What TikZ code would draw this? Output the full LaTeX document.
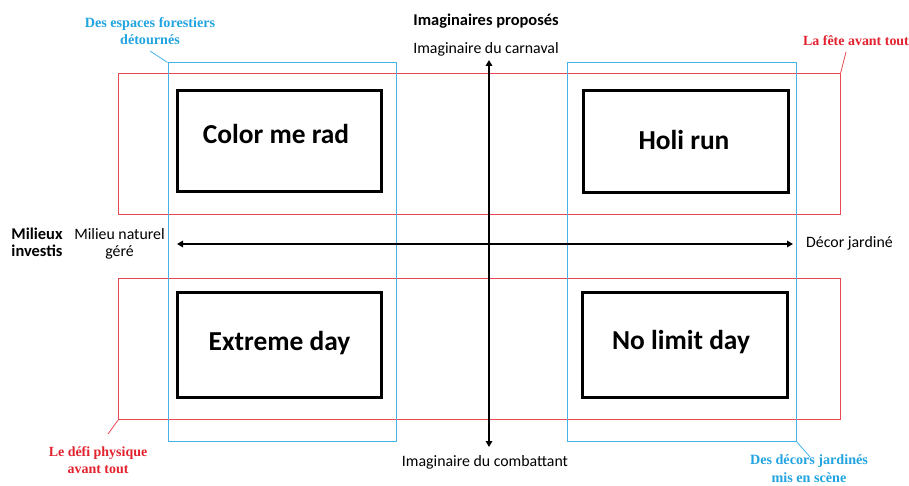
\documentclass[tikz,border=0pt]{standalone}
\usepackage{fontspec}
\setmainfont{Carlito}
\newfontfamily\labserif{Liberation Serif}
\usetikzlibrary{arrows.meta}
\definecolor{zonered}{RGB}{234,72,82}
\definecolor{zoneblue}{RGB}{70,178,232}
\definecolor{txtred}{RGB}{226,34,46}
\definecolor{txtblue}{RGB}{34,164,224}
\begin{document}
\begin{tikzpicture}[x=1bp,y=-1bp,
  redzone/.style={draw=zonered,line width=1bp,minimum width=#1,inner sep=0pt},
  bluezone/.style={draw=zoneblue,line width=1bp,inner sep=0pt},
  eventbox/.style={draw=black,line width=3bp,fill=white,inner sep=0pt},
  boxtext/.style={anchor=base,inner sep=0pt,font=\fontsize{27.5}{30}\selectfont\bfseries},
  axistext/.style={anchor=base,inner sep=0pt,font=\fontsize{15.9}{18}\selectfont},
  axistitle/.style={anchor=base,inner sep=0pt,align=center,font=\fontsize{16.5}{18}\selectfont\bfseries},
  redlab/.style={anchor=base,inner sep=0pt,align=center,text=txtred,font=\labserif\fontsize{14}{17}\selectfont\bfseries},
  bluelab/.style={anchor=base,inner sep=0pt,align=center,text=txtblue,font=\labserif\fontsize{14.2}{17.5}\selectfont\bfseries},
  leadred/.style={draw=zonered,line width=0.8bp},
  leadblue/.style={draw=zoneblue,line width=0.8bp},
  axis/.style={draw=black,line width=2bp,{Triangle[length=6bp,width=6.5bp]}-{Triangle[length=6bp,width=6.5bp]}}
]
\useasboundingbox (0,0) rectangle (909,486);
\fill[white] (0,0) rectangle (909,486);

% red zones
\node[redzone=721bp,minimum height=141bp] (redtop) at (479.5,144.5) {};
\node[redzone=721bp,minimum height=140bp] (redbot) at (479.5,349) {};
% blue zones
\node[bluezone,minimum width=228bp,minimum height=378bp] (blueleft) at (282,252) {};
\node[bluezone,minimum width=229bp,minimum height=378bp] (blueright) at (681.5,252) {};

% axes
\coordinate (vtop) at (489,60);
\coordinate (vbot) at (489,447);
\coordinate (hleft) at (177,244);
\coordinate (hright) at (793,244);
\draw[axis] (vbot) -- (vtop);
\draw[axis] (hleft) -- (hright);

% event boxes
\node[eventbox,minimum width=204bp,minimum height=101bp] (cmr) at (279,141.5) {};
\node[eventbox,minimum width=205bp,minimum height=102bp] (holi) at (685.5,142) {};
\node[eventbox,minimum width=204bp,minimum height=104bp] (extreme) at (279,345) {};
\node[eventbox,minimum width=205bp,minimum height=104bp] (nolimit) at (684.5,345) {};
\node[boxtext] (cmrt) at (276,144) {Color me rad};
\node[boxtext] (holit) at (684,150) {Holi run};
\node[boxtext] (extremet) at (279.5,350.5) {Extreme day};
\node[boxtext] (nolimitt) at (681,350) {No limit day};

% axis labels
\node[axistitle] (imtitle) at (486,26) {Imaginaires proposés};
\node[axistext] (carnaval) at (486,54) {Imaginaire du carnaval};
\node[axistext] (combat) at (485,466) {Imaginaire du combattant};
\node[axistitle] (milieux) at (37,257) {Milieux\\investis};
\node[axistext,align=center] (naturel) at (119.5,257) {Milieu naturel\\géré};
\node[axistext,anchor=base west] (decor) at (806,248) {Décor jardiné};

% zone labels
\node[bluelab] (forest) at (150,45) {Des espaces forestiers\\détournés};
\node[redlab] (fete) at (856,46) {La fête avant tout};
\node[redlab] (defi) at (98,473) {Le défi physique\\avant tout};
\node[bluelab] (jardin) at (809,482) {Des décors jardinés\\mis en scène};

% leaders
\coordinate (forestend) at (150,51);
\coordinate (feteend) at (846,52);
\coordinate (defiend) at (108,434);
\coordinate (jardinend) at (810,457);
\draw[leadblue] (blueleft.north west) -- (forestend);
\draw[leadred] (redtop.north east) -- (feteend);
\draw[leadred] (redbot.south west) -- (defiend);
\draw[leadblue] (blueright.south east) -- (jardinend);
\end{tikzpicture}
\end{document}
